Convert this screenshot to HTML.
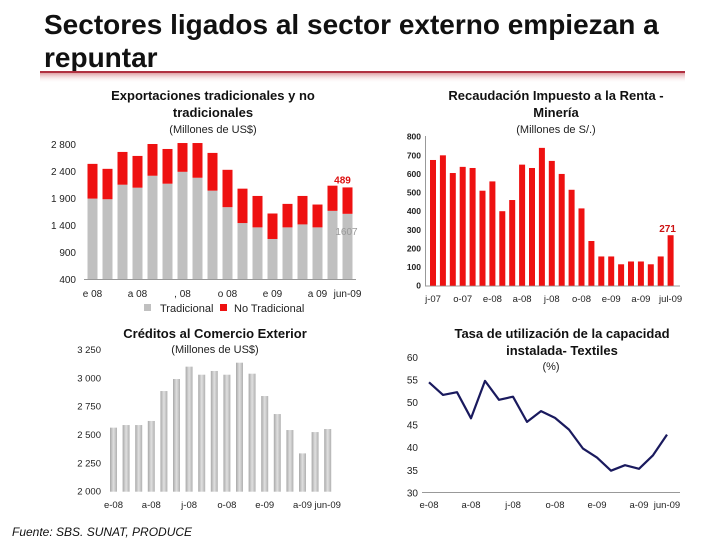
<!DOCTYPE html>
<html><head><meta charset="utf-8"><style>
html,body{margin:0;padding:0;background:#fff;width:720px;height:540px;overflow:hidden}
svg{display:block;font-family:"Liberation Sans",sans-serif}
</style></head><body>
<svg id="s" width="720" height="540" viewBox="0 0 720 540">
<defs>
<linearGradient id="rl" x1="0" y1="0" x2="0" y2="1"><stop offset="0" stop-color="#c0404a"/><stop offset="1" stop-color="#fff" stop-opacity="0"/></linearGradient>
<linearGradient id="gb" x1="0" y1="0" x2="1" y2="0"><stop offset="0" stop-color="#a8a8a8"/><stop offset="0.5" stop-color="#e0e0e0"/><stop offset="1" stop-color="#b0b0b0"/></linearGradient>
</defs>
<text x="44" y="34" font-size="28" font-weight="bold" fill="#111">Sectores ligados al sector externo empiezan a</text>
<text x="44" y="67" font-size="28" font-weight="bold" fill="#111">repuntar</text>
<rect x="40" y="71" width="645" height="2" fill="#b03040"/>
<rect x="40" y="73" width="645" height="10" fill="url(#rl)" opacity="0.5"/>

<g font-size="13" font-weight="bold" text-anchor="middle" fill="#111">
<text x="213" y="100">Exportaciones tradicionales y no</text>
<text x="213" y="117">tradicionales</text>
<text x="556" y="100">Recaudación Impuesto a la Renta -</text>
<text x="556" y="117">Minería</text>
<text x="215" y="338">Créditos al Comercio Exterior</text>
<text x="562" y="338">Tasa de utilización de la capacidad</text>
<text x="562" y="355">instalada- Textiles</text>
</g>
<g font-size="11" text-anchor="middle" fill="#222">
<text x="213" y="133">(Millones de US$)</text>
<text x="556" y="133">(Millones de S/.)</text>
<text x="215" y="353">(Millones de US$)</text>
<text x="551" y="370">(%)</text>
</g>
<text x="12" y="536" font-size="12" font-style="italic" fill="#111">Fuente: SBS. SUNAT, PRODUCE</text>
<g id="c1"></g><g id="c2"></g><g id="c3"></g><g id="c4"></g>
</svg>
<script>
// Chart 1 data
const c1Trad = [1889,1877,2146,2091,2312,2165,2385,2275,2036,1730,1436,1356,1141,1356,1411,1356,1662,1607];
const c1NoTrad = [643,563,607,588,588,643,533,643,699,692,637,582,472,435,527,423,466,489];
const c1Ticks = [400,900,1400,1900,2400,2900];
const c1TickLabels = ["400","900","1 400","1 900","2 400","2 800"];
const c1XLabels = [[0,"e 08"],[3,"a 08"],[6,", 08"],[9,"o 08"],[12,"e 09"],[15,"a 09"],[17,"jun-09"]];
// Chart 2 data
const c2Vals = [675,700,605,638,632,510,560,400,460,650,632,740,670,600,515,415,240,157,157,115,130,130,115,157,271];
const c2Ticks = [0,100,200,300,400,500,600,700,800];
const c2XLabels = [[0,"j-07"],[3,"o-07"],[6,"e-08"],[9,"a-08"],[12,"j-08"],[15,"o-08"],[18,"e-09"],[21,"a-09"],[24,"jul-09"]];
// Chart 3 data
const c3Vals = [2565,2588,2588,2624,2888,2994,3103,3032,3065,3032,3138,3041,2844,2685,2544,2338,2526,2553];
const c3Ticks = [2000,2250,2500,2750,3000,3250];
const c3TickLabels = ["2 000","2 250","2 500","2 750","3 000","3 250"];
const c3XLabels = [[0,"e-08"],[3,"a-08"],[6,"j-08"],[9,"o-08"],[12,"e-09"],[15,"a-09"],[17,"jun-09"]];
// Chart 4 data
const c4Vals = [54.4,51.6,52.2,46.4,54.7,50.5,51.2,45.6,48.0,46.5,43.9,39.7,37.7,34.8,36.0,35.2,38.2,42.8];
const c4Ticks = [30,35,40,45,50,55,60];
const c4XLabels = [[0,"e-08"],[3,"a-08"],[6,"j-08"],[9,"o-08"],[12,"e-09"],[15,"a-09"],[17,"jun-09"]];

const NS="http://www.w3.org/2000/svg";
function mk(p,tag,at,txt){const e=document.createElementNS(NS,tag);for(const k in at)e.setAttribute(k,at[k]);if(txt!==undefined)e.textContent=txt;p.appendChild(e);return e;}
function lin(d0,d1,r0,r1){return v=>r0+(v-d0)*(r1-r0)/(d1-d0);}

// Chart 1
(function(){
const g=document.getElementById('c1');
const y=lin(400,2900,279,144), x=i=>92.5+i*15;
c1Ticks.forEach((t,i)=>{const e=mk(g,'text',{x:76,y:y(t)+4,'font-size':10,'text-anchor':'end',fill:'#222'},c1TickLabels[i]);

});
const ax=mk(g,'line',{x1:84,x2:356,y1:279.5,y2:279.5,stroke:'#999'});


c1Trad.forEach((v,i)=>{
const b=mk(g,'rect',{x:x(i)-5,y:y(v),width:10,height:y(400)-y(v),fill:'#c0c0c0'});


const r=mk(g,'rect',{x:x(i)-5,y:y(v+c1NoTrad[i]),width:10,height:y(v)-y(v+c1NoTrad[i]),fill:'#ee1111'});

});
c1XLabels.forEach(([i,l])=>{const e=mk(g,'text',{x:x(i),y:297,'font-size':10,'text-anchor':'middle',fill:'#222'},l);

});
const n=c1Trad.length-1;
const a=mk(g,'text',{x:x(n)-5,y:y(c1Trad[n]+c1NoTrad[n])-4,'font-size':10,'font-weight':'bold','text-anchor':'middle',fill:'#dd1111'},String(c1NoTrad[n]));


const b=mk(g,'text',{x:x(n)-1,y:y(c1Trad[n])+21,'font-size':10,'text-anchor':'middle',fill:'#999'},String(c1Trad[n]));


const l1=mk(g,'rect',{x:144,y:304,width:7,height:7,fill:'#c0c0c0'});


const t1=mk(g,'text',{x:160,y:312,'font-size':11,fill:'#222'},'Tradicional');


const l2=mk(g,'rect',{x:220,y:304,width:7,height:7,fill:'#ee1111'});


const t2=mk(g,'text',{x:234,y:312,'font-size':11,fill:'#222'},'No Tradicional');


})();

// Chart 2
(function(){
const g=document.getElementById('c2');
const y=lin(0,800,285.7,136.7), x=i=>433+i*9.9;
c2Ticks.forEach(t=>{const e=mk(g,'text',{x:421,y:y(t)+3,'font-size':8.5,'font-weight':'bold','text-anchor':'end',fill:'#222'},String(t));

});
const ax=mk(g,'line',{x1:425,x2:680,y1:286,y2:286,stroke:'#999'});


const ay=mk(g,'line',{x1:425.5,x2:425.5,y1:136,y2:286,stroke:'#999'});


c2Vals.forEach((v,i)=>{const r=mk(g,'rect',{x:x(i)-3,y:y(v),width:6,height:y(0)-y(v),fill:'#ee1111'});

});
c2XLabels.forEach(([i,l])=>{const e=mk(g,'text',{x:x(i),y:302,'font-size':9.5,'text-anchor':'middle',fill:'#222'},l);

});
const n=c2Vals.length-1;
const a=mk(g,'text',{x:x(n)-3,y:y(c2Vals[n])-3,'font-size':10,'font-weight':'bold','text-anchor':'middle',fill:'#cc1111'},String(c2Vals[n]));


})();

// Chart 3
(function(){
const g=document.getElementById('c3');
const y=lin(2000,3250,491.7,350), x=i=>113.5+i*12.6;
c3Ticks.forEach((t,i)=>{const e=mk(g,'text',{x:101,y:y(t)+3,'font-size':9.5,'text-anchor':'end',fill:'#222'},c3TickLabels[i]);

});
c3Vals.forEach((v,i)=>{const r=mk(g,'rect',{x:x(i)-3.5,y:y(v),width:7,height:y(2000)-y(v),fill:'url(#gb)'});

});
c3XLabels.forEach(([i,l])=>{const e=mk(g,'text',{x:x(i),y:508,'font-size':9.5,'text-anchor':'middle',fill:'#222'},l);

});
})();

// Chart 4
(function(){
const g=document.getElementById('c4');
const y=lin(30,60,492.3,357), x=i=>429+i*14;
c4Ticks.forEach(t=>{const e=mk(g,'text',{x:418,y:y(t)+4,'font-size':10,'text-anchor':'end',fill:'#222'},String(t));

});
const ax=mk(g,'line',{x1:422,x2:680,y1:492.5,y2:492.5,stroke:'#999'});


const pts=c4Vals.map((v,i)=>x(i).toFixed(1)+','+y(v).toFixed(1)).join(' ');
const p=mk(g,'polyline',{points:pts,fill:'none',stroke:'#1a1a5e','stroke-width':2.2,'stroke-linejoin':'round'});


c4XLabels.forEach(([i,l])=>{const e=mk(g,'text',{x:x(i),y:508,'font-size':9.5,'text-anchor':'middle',fill:'#222'},l);

});
})();
</script>
</body></html>
